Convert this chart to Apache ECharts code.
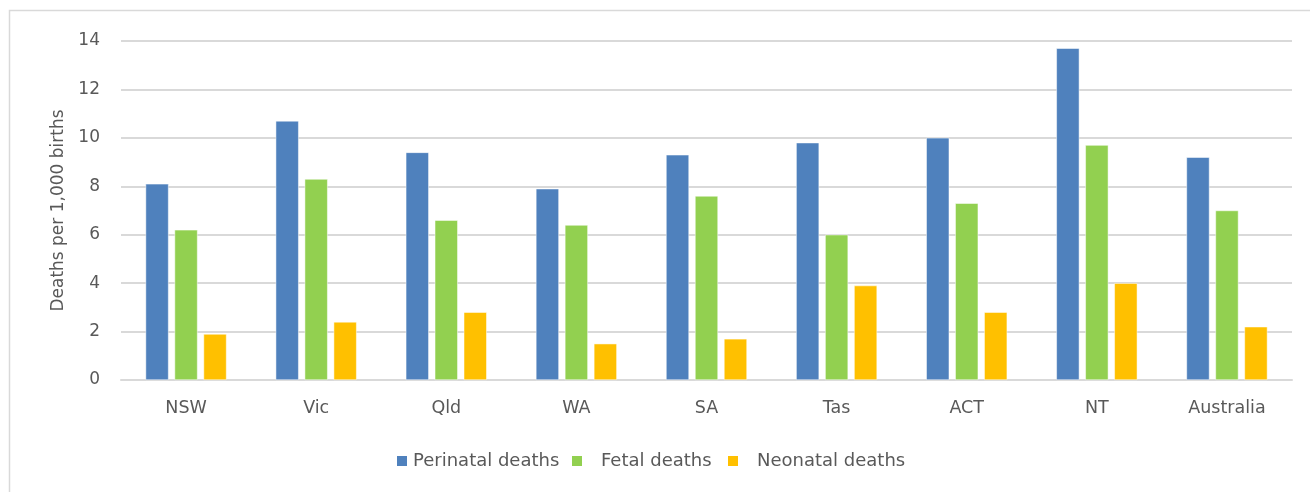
<!DOCTYPE html>
<html><head><meta charset="utf-8">
<script src="https://cdn.jsdelivr.net/npm/echarts@6/dist/echarts.min.js"></script>
<style>html,body{margin:0;padding:0;background:#fff}#c{width:1310px;height:492px}</style>
</head><body><div id="c"></div>
<script>
const categories = ['NSW','Vic','Qld','WA','SA','Tas','ACT','NT','Australia'];
const perinatal = [8.1, 10.7, 9.4, 7.9, 9.3, 9.8, 10.0, 13.7, 9.2];
const fetal = [6.2, 8.3, 6.6, 6.4, 7.6, 6.0, 7.3, 9.7, 7.0];
const neonatal = [1.9, 2.4, 2.8, 1.5, 1.7, 3.9, 2.8, 4.0, 2.2];
const seriesNames = ['Perinatal deaths', 'Fetal deaths', 'Neonatal deaths'];
const colors = ['#4F81BD', '#92D050', '#FFC000'];
const font = 'DejaVu Sans';
const chart = echarts.init(document.getElementById('c'), null, {renderer:'canvas'});
const mk = (name, data, color) => ({
  name, type:'bar', data, barWidth:23, barGap:'26%',
  itemStyle:{color, borderColor:'#ffffff', borderWidth:0.5},
  emphasis:{disabled:true}
});
const legendLefts = [395, 570, 726];
const legendPads = [0, 13, 13];
const legends = seriesNames.map((n, i) => ({
  data:[n], top:452, left:legendLefts[i], padding:0, itemWidth:12, itemHeight:12, icon:'rect',
  selectedMode:false,
  formatter: name => '{s|}{t|' + name + '}',
  textStyle:{color:'#595959', fontSize:18, fontFamily:font,
    rich:{s:{width:legendPads[i]}, t:{color:'#595959', fontSize:18, fontFamily:font}}}
}));
chart.setOption({
  animation:false,
  textStyle:{fontFamily:font},
  graphic:[{type:'rect', shape:{x:9.5,y:10.5,width:1320,height:500}, style:{fill:'none', stroke:'#D9D9D9', lineWidth:1.5}, silent:true}],
  grid:{left:121, right:18, top:41, bottom:112},
  legend:legends,
  xAxis:{
    type:'category', data:categories,
    axisLine:{lineStyle:{color:'#D9D9D9', width:2}},
    axisTick:{show:false},
    axisLabel:{color:'#595959', fontSize:17.5, margin:19}
  },
  yAxis:{
    type:'value', min:0, max:14, interval:2,
    name:'Deaths per 1,000 births', nameLocation:'middle', nameGap:52,
    nameTextStyle:{color:'#595959', fontSize:17},
    axisLine:{show:false}, axisTick:{show:false},
    axisLabel:{color:'#595959', fontSize:17, margin:21},
    splitLine:{lineStyle:{color:'#D9D9D9', width:2}}
  },
  series:[mk(seriesNames[0], perinatal, colors[0]), mk(seriesNames[1], fetal, colors[1]), mk(seriesNames[2], neonatal, colors[2])]
});
</script></body></html>
